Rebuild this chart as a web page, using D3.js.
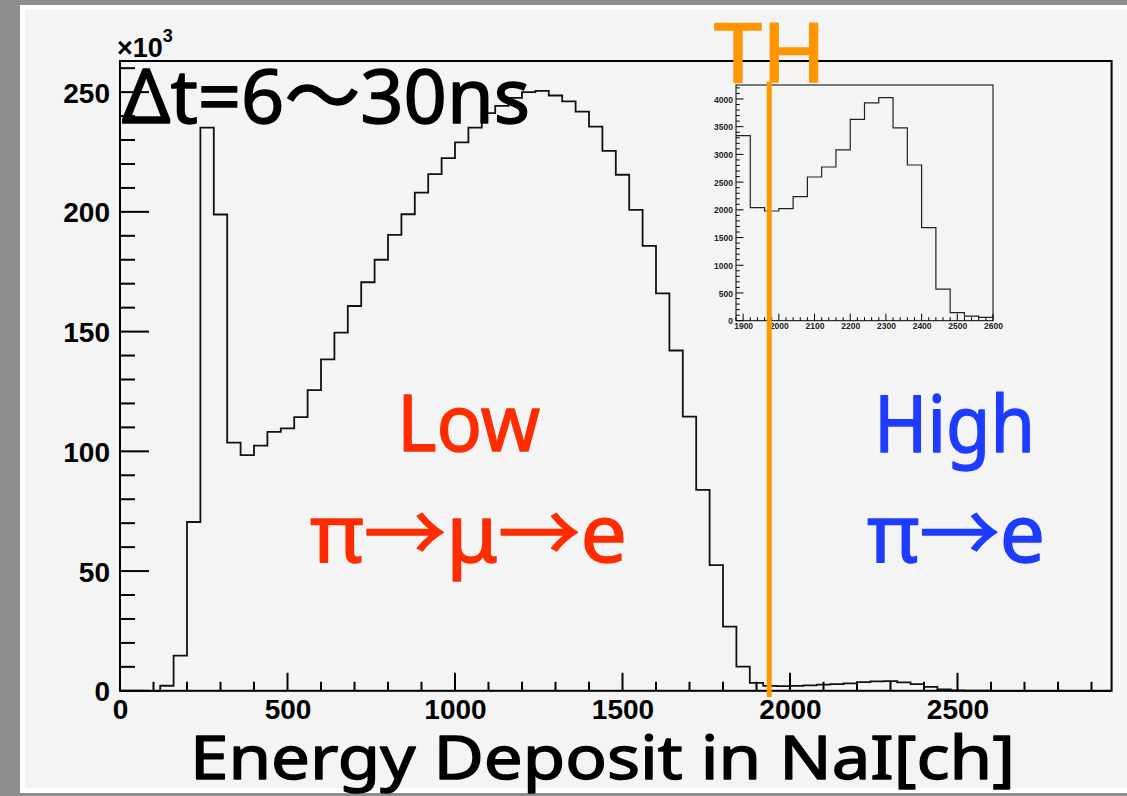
<!DOCTYPE html>
<html>
<head>
<meta charset="utf-8">
<script src="https://cdn.jsdelivr.net/npm/d3@7"></script>
<style>
  html, body { margin: 0; padding: 0; background: #8e8e8e; }
  svg { display: block; }
</style>
</head>
<body>
<svg id="chart" width="1127" height="796"></svg>
<script>
// NaI energy deposit histogram, 40-channel bins starting at channel 0 (counts in units of 10^3)
const binStart = 0;
const binWidth = 40;
const countsK = [
  0, 0, 0, 2.1, 14.7, 70.5, 235.2, 198.9, 103.6, 98.4,
  102.4, 108.1, 109.6, 114.3, 125.6, 138.4, 149.6, 160.7, 170.6, 180.0,
  190.4, 199.0, 208.0, 215.8, 222.4, 229.0, 235.2, 241.2, 244.3, 247.6,
  250.0, 250.5, 248.6, 246.1, 241.9, 235.6, 225.5, 215.5, 200.8, 185.8,
  166.0, 142.1, 114.5, 83.9, 52.5, 26.8, 10.1, 3.34, 2.04, 1.98,
  2.02, 2.24, 2.59, 2.77, 3.08, 3.63, 3.93, 4.02, 3.48, 2.81,
  1.68, 0.57, 0.14, 0.08, 0.06, 0, 0, 0, 0, 0,
  0, 0, 0, 0
];

// Zoomed view of the high-energy region (raw counts), bins from channel 1880
const insetStart = 1880;
const insetCounts = [
  3338, 2039, 1979, 2021, 2238, 2592, 2773, 3080, 3633, 3928,
  4024, 3477, 2809, 1678, 571, 144, 84, 60
];

const xTicks = [0, 500, 1000, 1500, 2000, 2500];
const yTicks = [0, 50, 100, 150, 200, 250];
const insetXTicks = [1900, 2000, 2100, 2200, 2300, 2400, 2500, 2600];
const insetYTicks = [0, 500, 1000, 1500, 2000, 2500, 3000, 3500, 4000];

const threshold = 1938;
const xTitle = "Energy Deposit in NaI[ch]";
const timeCut = "\u0394t=6\uff5e30ns";

// ---------------------------------------------------------------
const svg = d3.select("#chart");
const W = 1127, H = 796;

const numFont = "'Liberation Sans', Arial, Helvetica, sans-serif";
const handFont = "'Noto Sans', 'Noto Sans CJK JP', 'DejaVu Sans', sans-serif";
const red = "#ff2c00", blue = "#1e3cff", orange = "#ff9600";

// canvas: grey border, thin white edge, light-grey pad
svg.append("rect").attr("width", W).attr("height", H).attr("fill", "#8e8e8e");
svg.append("rect").attr("x", 20).attr("y", 5).attr("width", W - 20).attr("height", 788).attr("fill", "#ffffff");
svg.append("rect").attr("x", 25).attr("y", 10).attr("width", W - 25).attr("height", 778).attr("fill", "#f4f4f4");

// main frame geometry
const fx0 = 120, fx1 = 1111.6, fy0 = 61, fy1 = 690.8;
const xMax = binStart + binWidth * countsK.length;
const x = d3.scaleLinear().domain([0, xMax]).range([fx0, fx1]);
const y = d3.scaleLinear().domain([0, 263]).range([fy1, fy0]);

// step outline of a histogram
function stepPoints(values, start, width, dropEnds) {
  const pts = [];
  if (dropEnds) pts.push([start, 0]);
  values.forEach((v, i) => {
    pts.push([start + i * width, v]);
    pts.push([start + (i + 1) * width, v]);
  });
  if (dropEnds) pts.push([start + values.length * width, 0]);
  return pts;
}

const xAxis = d3.axisBottom(x).tickValues(xTicks).tickSize(0).tickFormat(d3.format("d"));
const yAxis = d3.axisLeft(y).tickValues(yTicks).tickSize(0).tickFormat(d3.format("d"));

const g = svg.append("g");

// minor + major ticks drawn inward
const xMinor = d3.range(0, xMax, 100);
g.selectAll(".xt").data(xMinor).join("line")
  .attr("x1", d => x(d)).attr("x2", d => x(d))
  .attr("y1", fy1).attr("y2", d => fy1 - (d % 500 === 0 ? 18 : 9))
  .attr("stroke", "#000").attr("stroke-width", 2);
const yMinor = d3.range(0, 263, 10);
g.selectAll(".yt").data(yMinor).join("line")
  .attr("y1", d => y(d)).attr("y2", d => y(d))
  .attr("x1", fx0).attr("x2", d => fx0 + (d % 50 === 0 ? 29 : 15))
  .attr("stroke", "#000").attr("stroke-width", 2);

// axis labels
const gx = g.append("g").attr("transform", `translate(0,${fy1})`).call(xAxis);
gx.select(".domain").remove();
gx.selectAll("text").attr("font-family", numFont).attr("font-weight", "bold")
  .attr("font-size", 28).attr("fill", "#000").attr("y", 8).attr("dy", "0.72em");

const gy = g.append("g").attr("transform", `translate(${fx0},0)`).call(yAxis);
gy.select(".domain").remove();
gy.selectAll("text").attr("font-family", numFont).attr("font-weight", "bold")
  .attr("font-size", 28).attr("fill", "#000").attr("x", -10).attr("dy", "0.36em");

// ×10^3 exponent
const ex = svg.append("text").attr("x", 117).attr("y", 57)
  .attr("font-family", numFont).attr("font-weight", "bold").attr("font-size", 27).attr("fill", "#000");
ex.append("tspan").text("\u00d710");
ex.append("tspan").attr("font-size", 18).attr("dy", -15).text("3");

// main histogram
const line = d3.line().x(d => x(d[0])).y(d => y(d[1]));
svg.append("path")
  .attr("d", line(stepPoints(countsK, binStart, binWidth, true)))
  .attr("fill", "none").attr("stroke", "#111").attr("stroke-width", 1.8);

// main frame
svg.append("rect").attr("x", fx0).attr("y", fy0).attr("width", fx1 - fx0).attr("height", fy1 - fy0)
  .attr("fill", "none").attr("stroke", "#000").attr("stroke-width", 2);

// ---------------- inset ----------------
const ix0 = 736, ix1 = 993, iy0 = 85, iy1 = 320.7;
const insetEnd = insetStart + binWidth * insetCounts.length;
const xi = d3.scaleLinear().domain([insetStart, insetEnd]).range([ix0, ix1]);
const yi = d3.scaleLinear().domain([0, 4252]).range([iy1, iy0]);
const ig = svg.append("g");

ig.append("rect").attr("x", ix0).attr("y", iy0).attr("width", ix1 - ix0).attr("height", iy1 - iy0)
  .attr("fill", "#f4f4f4");

ig.selectAll(".ixt").data(d3.range(insetStart, insetEnd + 1, 20)).join("line")
  .attr("x1", d => xi(d)).attr("x2", d => xi(d))
  .attr("y1", iy1).attr("y2", d => iy1 - (d % 100 === 0 ? 7 : 3.5))
  .attr("stroke", "#000").attr("stroke-width", 1);
ig.selectAll(".iyt").data(d3.range(0, 4252, 100)).join("line")
  .attr("y1", d => yi(d)).attr("y2", d => yi(d))
  .attr("x1", ix0).attr("x2", d => ix0 + (d % 500 === 0 ? 7.5 : 3.8))
  .attr("stroke", "#000").attr("stroke-width", 1);

const gix = ig.append("g").attr("transform", `translate(0,${iy1})`)
  .call(d3.axisBottom(xi).tickValues(insetXTicks).tickSize(0).tickFormat(d3.format("d")));
gix.select(".domain").remove();
gix.selectAll("text").attr("font-family", numFont).attr("font-weight", "bold")
  .attr("font-size", 8.5).attr("fill", "#222").attr("y", 2).attr("dy", "0.72em");

const giy = ig.append("g").attr("transform", `translate(${ix0},0)`)
  .call(d3.axisLeft(yi).tickValues(insetYTicks).tickSize(0).tickFormat(d3.format("d")));
giy.select(".domain").remove();
giy.selectAll("text").attr("font-family", numFont).attr("font-weight", "bold")
  .attr("font-size", 8.5).attr("fill", "#222").attr("x", -3).attr("dy", "0.36em");

const iline = d3.line().x(d => xi(d[0])).y(d => yi(d[1]));
ig.append("path")
  .attr("d", iline(stepPoints(insetCounts, insetStart, binWidth, false)))
  .attr("fill", "none").attr("stroke", "#222").attr("stroke-width", 1.2);

ig.append("rect").attr("x", ix0).attr("y", iy0).attr("width", ix1 - ix0).attr("height", iy1 - iy0)
  .attr("fill", "none").attr("stroke", "#000").attr("stroke-width", 1);

// ---------------- annotations ----------------
function label(txt, x0, x1, base, size, color) {
  return svg.append("text")
    .attr("x", x0).attr("y", base)
    .attr("textLength", x1 - x0).attr("lengthAdjust", "spacingAndGlyphs")
    .attr("font-family", handFont).attr("font-size", size).attr("fill", color)
    .attr("stroke", color).attr("stroke-width", 1.4).attr("stroke-linejoin", "round")
    .text(txt);
}

label(timeCut, 122, 530, 123, 74, "#000");
label("Low", 397, 540, 451, 78, red);
label("\u03c0\u2192\u03bc\u2192e", 310, 627, 562, 80, red);
label("High", 874, 1035, 452, 78, blue);
label("\u03c0\u2192e", 867, 1045, 562, 80, blue);
label(xTitle, 190, 1015, 779, 60, "#000");

// threshold line and its label
svg.append("line")
  .attr("x1", x(threshold)).attr("x2", x(threshold))
  .attr("y1", 82).attr("y2", 697)
  .attr("stroke", orange).attr("stroke-width", 5);
label("TH", 714, 826, 82, 82, orange);
</script>
</body>
</html>
